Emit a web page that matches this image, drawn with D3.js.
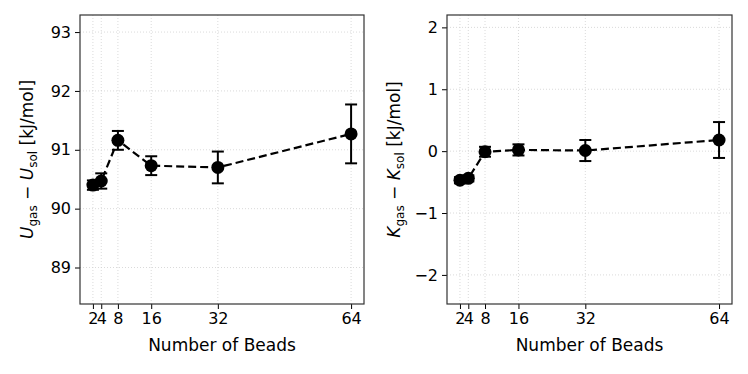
<!DOCTYPE html>
<html>
<head>
<meta charset="utf-8">
<script src="https://cdn.jsdelivr.net/npm/d3@7"></script>
<style>
  body { margin: 0; background: #fff; }
  svg text { font-family: "DejaVu Sans", sans-serif; }
  .grid line { stroke: #d0d0d0; stroke-width: 0.8; stroke-dasharray: 1,2; }
  .axis text { font-size: 16px; fill: #000; font-family: "DejaVu Sans", sans-serif; }
  .axis line { stroke: #000; stroke-width: 1; }
  .axis path { display: none; }
</style>
</head>
<body>
<script>
// data
const beads = [2, 4, 8, 16, 32, 64];
const uMean = [90.40, 90.47, 91.16, 90.73, 90.70, 91.27];
const uErr  = [0.08, 0.13, 0.16, 0.16, 0.27, 0.50];
const kMean = [-0.47, -0.44, -0.01, 0.02, 0.01, 0.18];
const kErr  = [0.05, 0.05, 0.08, 0.09, 0.17, 0.29];
const uTicks = [89, 90, 91, 92, 93];
const kTicks = [-2, -1, 0, 1, 2];

const W = 748, H = 374;
const svg = d3.select("body").append("svg")
  .attr("width", W).attr("height", H);

function panel(opts) {
  const m = opts.box; // {left, top, width, height}
  const g = svg.append("g").attr("transform", "translate(" + m.left + "," + m.top + ")");

  const x = d3.scaleLinear().domain([-1.1, 67.1]).range([0, m.width]);
  const y = d3.scaleLinear().domain(opts.ydom).range([m.height, 0]);

  // grid
  const grid = g.append("g").attr("class", "grid");
  grid.selectAll(".gx").data(beads).enter().append("line")
    .attr("x1", d => x(d)).attr("x2", d => x(d))
    .attr("y1", 0).attr("y2", m.height);
  grid.selectAll(".gy").data(opts.ticks).enter().append("line")
    .attr("x1", 0).attr("x2", m.width)
    .attr("y1", d => y(d)).attr("y2", d => y(d));

  // axes
  g.append("g").attr("class", "axis")
    .attr("transform", "translate(0," + m.height + ")")
    .call(d3.axisBottom(x).tickValues(beads).tickSize(5).tickPadding(4).tickFormat(d3.format("d")));
  g.append("g").attr("class", "axis")
    .call(d3.axisLeft(y).tickValues(opts.ticks).tickSize(5).tickPadding(4)
      .tickFormat(d => d < 0 ? "\u2212" + Math.abs(d) : d));

  const data = beads.map((b, i) => ({ b: b, v: opts.mean[i], e: opts.err[i] }));

  // dashed connecting line
  g.append("path").datum(data)
    .attr("fill", "none").attr("stroke", "#000")
    .attr("stroke-width", 2.2).attr("stroke-dasharray", "8,4")
    .attr("d", d3.line().x(d => x(d.b)).y(d => y(d.v)));

  // error bars
  const eb = g.append("g").selectAll("g").data(data).enter().append("g")
    .attr("stroke", "#000").attr("stroke-width", 2);
  eb.append("line")
    .attr("x1", d => x(d.b)).attr("x2", d => x(d.b))
    .attr("y1", d => y(d.v - d.e)).attr("y2", d => y(d.v + d.e));
  eb.append("line")
    .attr("x1", d => x(d.b) - 6).attr("x2", d => x(d.b) + 6)
    .attr("y1", d => y(d.v + d.e)).attr("y2", d => y(d.v + d.e));
  eb.append("line")
    .attr("x1", d => x(d.b) - 6).attr("x2", d => x(d.b) + 6)
    .attr("y1", d => y(d.v - d.e)).attr("y2", d => y(d.v - d.e));

  // markers
  g.append("g").selectAll("circle").data(data).enter().append("circle")
    .attr("cx", d => x(d.b)).attr("cy", d => y(d.v))
    .attr("r", 6.5).attr("fill", "#000");

  // frame
  g.append("rect").attr("width", m.width).attr("height", m.height)
    .attr("fill", "none").attr("stroke", "#333").attr("stroke-width", 1.2);

  // x label
  g.append("text")
    .attr("x", m.width / 2).attr("y", m.height + 47)
    .attr("text-anchor", "middle").style("font-size", "17px")
    .text("Number of Beads");

  // y label
  const yl = g.append("text")
    .attr("transform", "translate(" + opts.ylabX + "," + (m.height / 2) + ") rotate(-90)")
    .attr("text-anchor", "middle").style("font-size", "17px");
  yl.append("tspan").style("font-style", "italic").text(opts.sym);
  yl.append("tspan").attr("dy", 4).style("font-size", "12px").text("gas");
  yl.append("tspan").attr("dy", -4).text(" \u2212 ");
  yl.append("tspan").style("font-style", "italic").text(opts.sym);
  yl.append("tspan").attr("dy", 4).style("font-size", "12px").text("sol");
  yl.append("tspan").attr("dy", -4).text(" [kJ/mol]");
}

panel({
  box: { left: 80, top: 15, width: 284, height: 289 },
  ydom: [88.38, 93.29], ticks: uTicks,
  mean: uMean, err: uErr, sym: "U", ylabX: -47
});

panel({
  box: { left: 447, top: 15, width: 285, height: 289 },
  ydom: [-2.47, 2.2], ticks: kTicks,
  mean: kMean, err: kErr, sym: "K", ylabX: -47
});
</script>
</body>
</html>
